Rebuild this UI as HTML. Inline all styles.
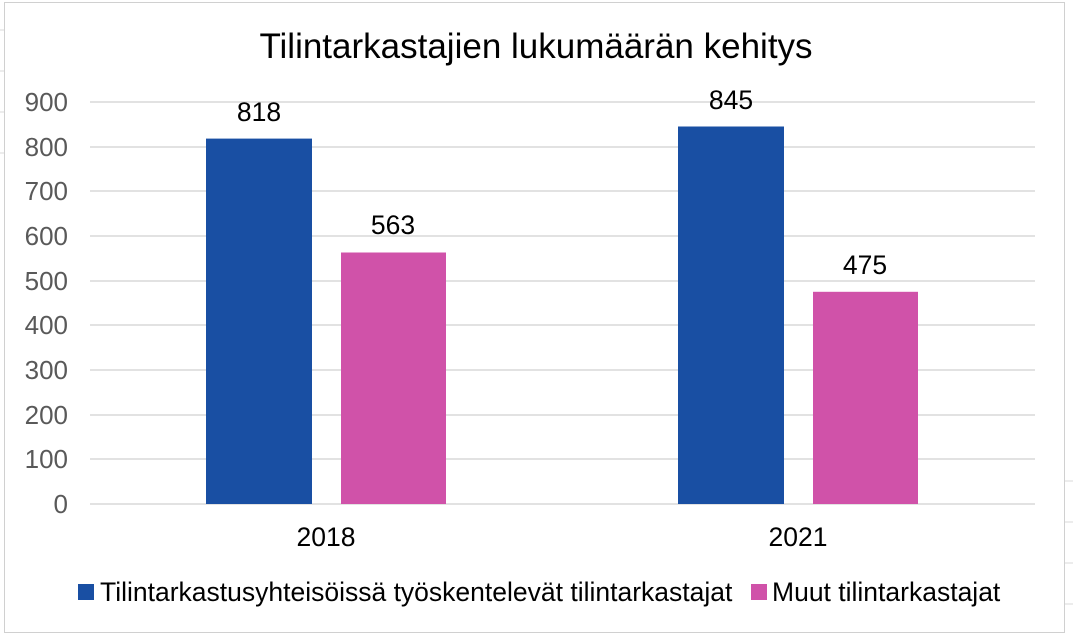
<!DOCTYPE html>
<html><head><meta charset="utf-8"><style>
body{margin:0;width:1073px;height:635px;overflow:hidden;background:#fff;font-family:"Liberation Sans",Arial,sans-serif}
</style></head><body>
<svg width="1073" height="635" xmlns="http://www.w3.org/2000/svg" font-family="Liberation Sans, Arial, sans-serif">
<g stroke="#d9d9d9" stroke-width="1">
<line x1="0" y1="30" x2="4" y2="30"/><line x1="0" y1="71" x2="4" y2="71"/><line x1="0" y1="112" x2="4" y2="112"/><line x1="0" y1="153" x2="4" y2="153"/>
<line x1="1065" y1="481" x2="1073" y2="481"/><line x1="1065" y1="522" x2="1073" y2="522"/><line x1="1065" y1="563" x2="1073" y2="563"/><line x1="1065" y1="604" x2="1073" y2="604"/>
</g>
<rect x="4.5" y="2.5" width="1060" height="630" fill="#fff" stroke="#d0d0d0"/>
<text x="536" y="58" font-size="35" text-anchor="middle" fill="#000">Tilintarkastajien lukumäärän kehitys</text>
<g stroke="#d9d9d9" stroke-width="1.5">
<line x1="90" y1="102" x2="1035" y2="102"/><line x1="90" y1="147" x2="1035" y2="147"/><line x1="90" y1="191" x2="1035" y2="191"/><line x1="90" y1="236" x2="1035" y2="236"/><line x1="90" y1="281" x2="1035" y2="281"/><line x1="90" y1="325" x2="1035" y2="325"/><line x1="90" y1="370" x2="1035" y2="370"/><line x1="90" y1="415" x2="1035" y2="415"/><line x1="90" y1="459" x2="1035" y2="459"/><line x1="90" y1="504" x2="1035" y2="504"/>
</g>
<g font-size="26" fill="#595959" text-anchor="end">
<text x="68" y="111">900</text><text x="68" y="156">800</text><text x="68" y="200">700</text><text x="68" y="245">600</text><text x="68" y="290">500</text><text x="68" y="334">400</text><text x="68" y="379">300</text><text x="68" y="424">200</text><text x="68" y="468">100</text><text x="68" y="513">0</text>
</g>
<rect x="206" y="138.6" width="106" height="365.4" fill="#194fa3"/>
<rect x="341" y="252.5" width="105" height="251.5" fill="#d052a9"/>
<rect x="678" y="126.5" width="106" height="377.5" fill="#194fa3"/>
<rect x="813" y="291.8" width="105" height="212.2" fill="#d052a9"/>
<g font-size="26.5" fill="#000" text-anchor="middle">
<text x="259" y="121">818</text><text x="393" y="234">563</text><text x="731" y="109">845</text><text x="865" y="274">475</text>
<text x="326" y="546">2018</text><text x="798" y="546">2021</text>
</g>
<rect x="78" y="584" width="16" height="16" fill="#194fa3"/>
<text x="100" y="601" font-size="26.5" fill="#000">Tilintarkastusyhteisöissä työskentelevät tilintarkastajat</text>
<rect x="751" y="584" width="16" height="16" fill="#d052a9"/>
<text x="772" y="601" font-size="26.5" fill="#000">Muut tilintarkastajat</text>
</svg>
</body></html>
